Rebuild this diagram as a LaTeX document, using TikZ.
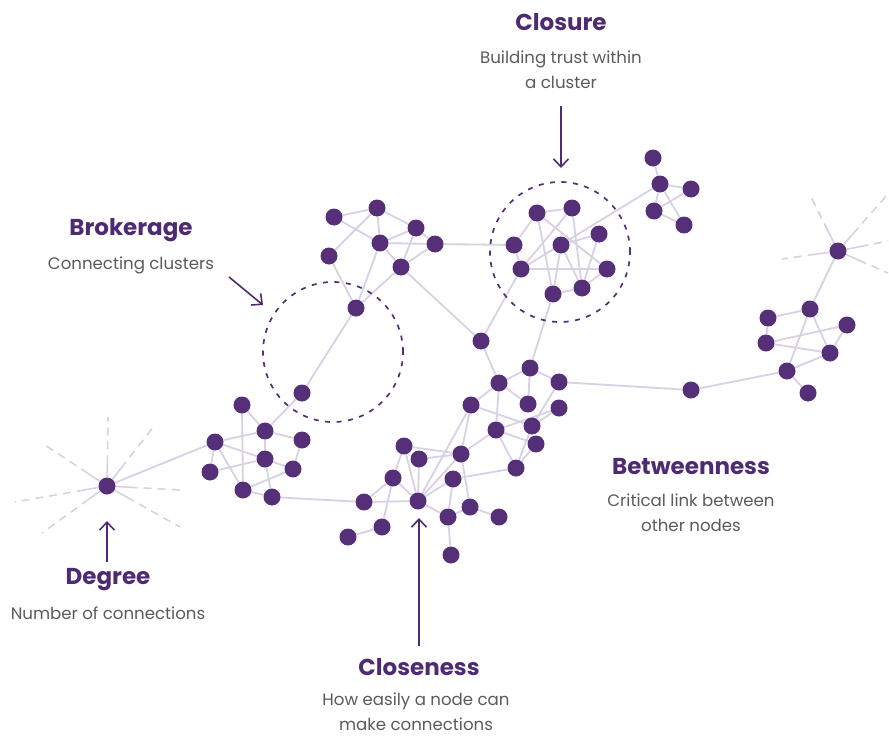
\documentclass[tikz,border=0pt]{standalone}
\usepackage{fontspec}
\setmainfont{Poppins}
\usetikzlibrary{arrows.meta,backgrounds}

\definecolor{dotpurple}{HTML}{553078}
\definecolor{linklav}{HTML}{D8D0E4}
\definecolor{headpurple}{HTML}{4E2A72}
\definecolor{captiongrey}{HTML}{5A5A5A}

\begin{document}
\begin{tikzpicture}[x=1pt,y=-1pt,
  dot/.style={circle, fill=dotpurple, inner sep=0pt, minimum size=17pt},
  link/.style={draw=linklav, line width=1.8pt},
  ray/.style={draw=linklav, line width=1.6pt,
    dash pattern=on 22pt off 6pt on 8pt off 6pt on 8pt off 6pt on 8pt off 6pt on 8pt off 6pt},
  ring/.style={circle, draw=dotpurple, line width=1.7pt, dash pattern=on 5pt off 6.5pt,
    minimum size=140pt, inner sep=0pt},
  pointer/.style={draw=headpurple, line width=1.6pt,
    -{Straight Barb[length=8pt,width=15pt,line width=1.6pt]}},
  heading/.style={text=headpurple, inner sep=1pt, font=\fontsize{23}{28}\selectfont\bfseries},
  caption/.style={text=captiongrey, inner sep=1pt, align=center, font=\fontsize{16.6}{25}\selectfont},
]
\useasboundingbox (0,0) rectangle (889,736);

% dashed rings marking closure and brokerage
\node[ring] (closurering) at (560,252) {};
\node[ring] (brokerring) at (333,352) {};

% upper-left cluster
\node[dot] (a1) at (334,217) {};
\node[dot] (a2) at (377,208) {};
\node[dot] (a3) at (416,228) {};
\node[dot] (a4) at (380,243) {};
\node[dot] (a5) at (435,244) {};
\node[dot] (a6) at (329,256) {};
\node[dot] (a7) at (401,267) {};
\node[dot] (a8) at (356,308) {};

% closure cluster
\node[dot] (b1) at (514,245) {};
\node[dot] (b2) at (537,213) {};
\node[dot] (b3) at (572,208) {};
\node[dot] (b4) at (561,245) {};
\node[dot] (b5) at (599,234) {};
\node[dot] (b6) at (521,269) {};
\node[dot] (b7) at (607,269) {};
\node[dot] (b8) at (553,294) {};
\node[dot] (b9) at (582,288) {};

% small top-right cluster
\node[dot] (d1) at (653,158) {};
\node[dot] (d2) at (660,184) {};
\node[dot] (d3) at (691,189) {};
\node[dot] (d4) at (654,211) {};
\node[dot] (d5) at (684,225) {};

% right cluster
\node[dot] (r0) at (838,251) {};
\node[dot] (r1) at (810,309) {};
\node[dot] (r2) at (768,318) {};
\node[dot] (r3) at (847,325) {};
\node[dot] (r4) at (766,343) {};
\node[dot] (r5) at (830,353) {};
\node[dot] (r6) at (787,371) {};
\node[dot] (r7) at (808,393) {};

% betweenness bridge node
\node[dot] (bt) at (691,390) {};

% middle cluster
\node[dot] (c)  at (481,341) {};
\node[dot] (m1) at (530,368) {};
\node[dot] (m2) at (499,383) {};
\node[dot] (m3) at (559,382) {};
\node[dot] (m4) at (471,405) {};
\node[dot] (m5) at (528,404) {};
\node[dot] (m6) at (559,408) {};
\node[dot] (m7) at (496,430) {};
\node[dot] (m8) at (532,426) {};
\node[dot] (m9) at (536,444) {};
\node[dot] (m11) at (516,468) {};

% closeness cluster
\node[dot] (k1) at (404,446) {};
\node[dot] (k2) at (419,459) {};
\node[dot] (k3) at (461,454) {};
\node[dot] (k4) at (393,478) {};
\node[dot] (k5) at (453,479) {};
\node[dot] (k6) at (364,502) {};
\node[dot] (k7) at (418,501) {};
\node[dot] (k8) at (470,507) {};
\node[dot] (k9) at (448,517) {};
\node[dot] (k10) at (499,517) {};
\node[dot] (k11) at (382,527) {};
\node[dot] (k12) at (348,537) {};
\node[dot] (k13) at (451,555) {};

% lower-left cluster
\node[dot] (l1) at (242,405) {};
\node[dot] (l2) at (302,393) {};
\node[dot] (l3) at (265,431) {};
\node[dot] (l4) at (215,442) {};
\node[dot] (l5) at (302,440) {};
\node[dot] (l6) at (265,459) {};
\node[dot] (l7) at (210,472) {};
\node[dot] (l8) at (293,469) {};
\node[dot] (l9) at (243,490) {};
\node[dot] (l10) at (272,497) {};

% degree star
\node[dot] (s) at (107,486) {};

% loose ends of the star rays
\coordinate (su)  at (108,417);
\coordinate (sur) at (155,425);
\coordinate (sr)  at (180,490);
\coordinate (sdr) at (180,527);
\coordinate (sdl) at (42,533);
\coordinate (sl)  at (15,502);
\coordinate (sul) at (42,443);
\coordinate (ru)  at (810,195);
\coordinate (rur) at (887,195);
\coordinate (rr)  at (888,241);
\coordinate (rdr) at (888,273);
\coordinate (rl)  at (782,259);

\begin{pgfonlayer}{background}
  \foreach \u/\v in {
    a1/a2, a1/a4, a2/a6, a2/a3, a2/a4, a3/a4, a3/a5, a3/a7, a4/a5, a4/a7,
    a4/a8, a6/a8, a7/a8, a7/a5, a7/c, a5/b1, a8/l2,
    b1/b2, b1/b6, b2/b3, b2/b7, b2/b8, b3/b6, b3/b9, b4/b5, b4/b8, b4/b9,
    b5/b9, b6/b7, b8/b9, b7/b9, b6/d2, b6/c, b8/m1,
    d1/d2, d2/d3, d2/d4, d2/d5, d3/d4, d4/d5,
    r0/r1, r1/r2, r1/r5, r1/r6, r2/r4, r4/r3, r4/r5, r3/r5, r5/r6, r6/r7,
    r6/bt, bt/m3,
    c/m2, m1/m2, m1/m3, m1/m5, m2/m4, m2/m5, m2/m7, m3/m8, m4/m8, m4/k3,
    m6/m8, m7/m9, m7/m11, m7/k3, m8/m11, m9/m11, k5/m11, m7/m6,
    k1/k3, k2/k3, k1/k4, k1/k7, k2/k7, k7/m4, k7/k3, k7/k5, k7/k4, k7/k6,
    k7/k9, k4/k11, k4/k6, k11/k12, k6/l10, k3/k8, k5/k9, k9/k13, k9/k8,
    k8/k10,
    l1/l9, l1/l3, l3/l2, l3/l4, l3/l5, l3/l6, l4/l6, l4/l7, l4/l9, l7/l6,
    l5/l8, l6/l8, l6/l10, l9/l8, l9/l10, l4/s}
    \draw[link] (\u) -- (\v);
  \foreach \e in {su, sur, sr, sdr, sdl, sl, sul}
    \draw[ray] (s) -- (\e);
  \foreach \e in {ru, rur, rr, rdr, rl}
    \draw[ray] (r0) -- (\e);
\end{pgfonlayer}

% labels
\node[heading] (closuret) at (561,22) {Closure};
\node[caption] (closurec) at (561,69.5) {Building trust within\\a cluster};
\node[heading] (brokert) at (131,230) {Brokerage};
\node[caption] (brokerc) at (131,265) {Connecting clusters};
\node[heading] (betweent) at (691,467) {Betweenness};
\node[caption] (betweenc) at (691,512.5) {Critical link between\\other nodes};
\node[heading] (degreet) at (108,580) {Degree};
\node[caption] (degreec) at (108,613) {Number of connections};
\node[heading] (closet) at (419,667) {Closeness};
\node[caption] (closec) at (416,712) {How easily a node can\\make connections};

% pointers
\coordinate (closuretail) at (561,106);
\coordinate (closuretip) at (561,168);
\coordinate (brokertail) at (229,277);
\coordinate (brokertip) at (263,305);
\coordinate (degreetail) at (107,562);
\coordinate (degreetip) at (107,521);
\coordinate (closetail) at (419,646);
\coordinate (closetip) at (419,518);
\draw[pointer] (closuretail) -- (closuretip);
\draw[pointer] (brokertail) -- (brokertip);
\draw[pointer] (degreetail) -- (degreetip);
\draw[pointer] (closetail) -- (closetip);
\end{tikzpicture}
\end{document}
